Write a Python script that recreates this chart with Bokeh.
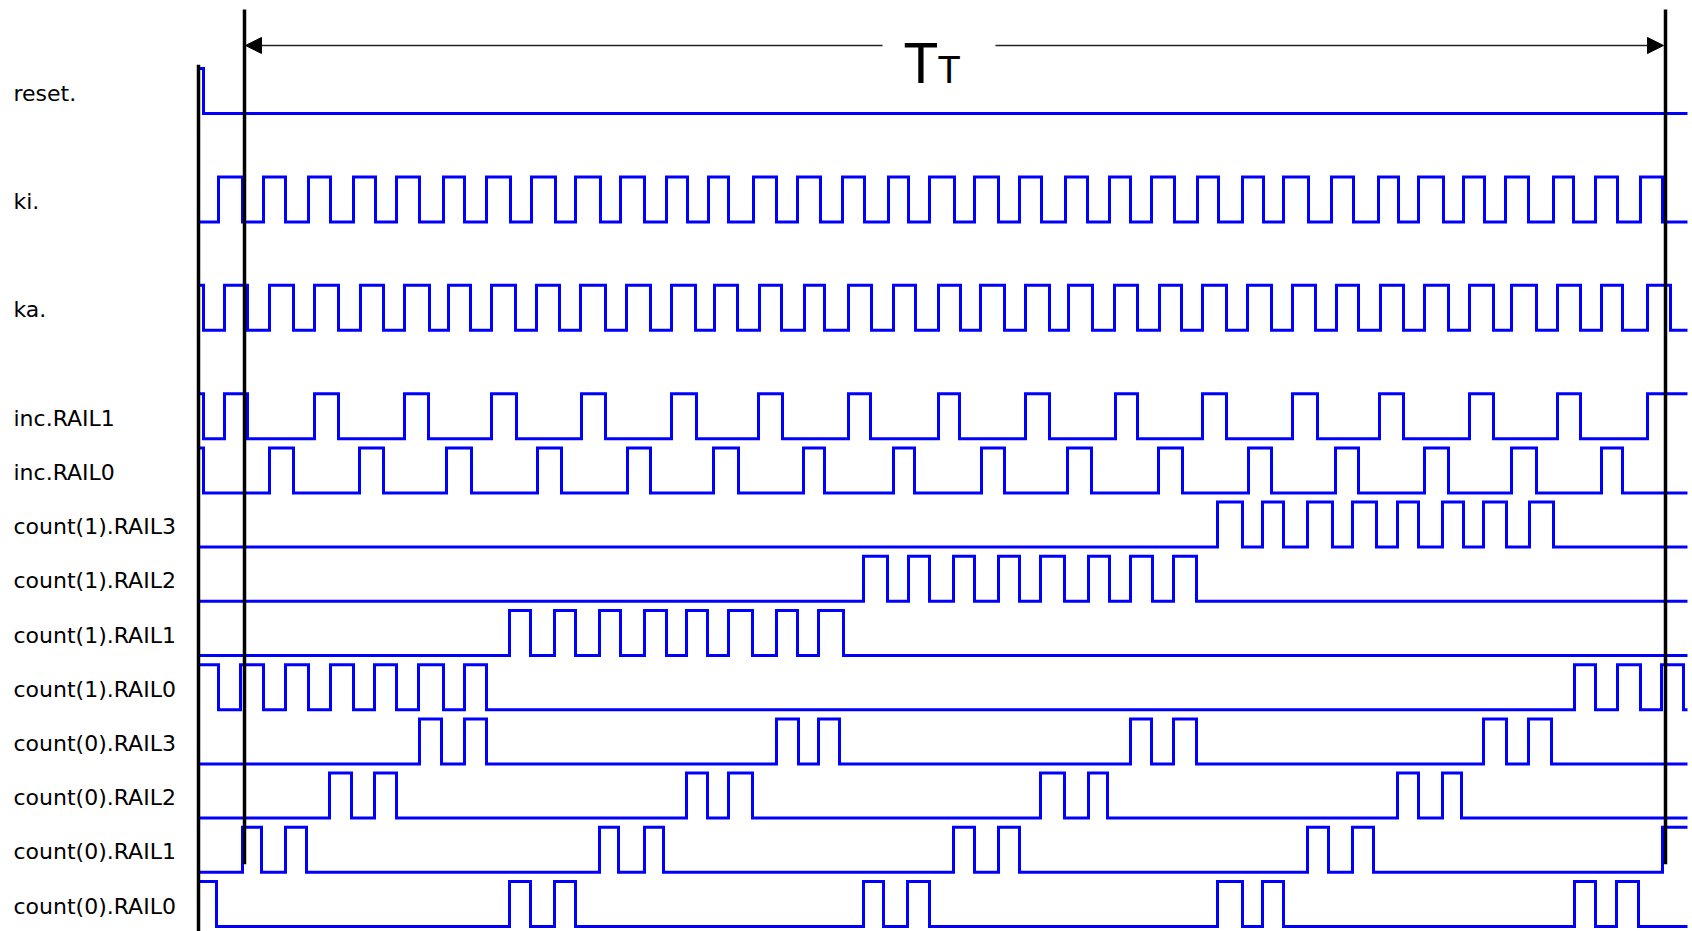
from bokeh.plotting import figure
from bokeh.models import Range1d, Arrow, NormalHead, ColumnDataSource
from bokeh.core.properties import value
from bokeh.embed import file_html
from bokeh.resources import INLINE

# ---------------- data (time units) ----------------
T_END = 1489

signal_names = ["reset.", "ki.", "ka.", "inc.RAIL1", "inc.RAIL0",
                "count(1).RAIL3", "count(1).RAIL2", "count(1).RAIL1", "count(1).RAIL0",
                "count(0).RAIL3", "count(0).RAIL2", "count(0).RAIL1", "count(0).RAIL0"]
signal_rows = [0, 2, 4, 6, 7, 8, 9, 10, 11, 12, 13, 14, 15]
initial_levels = [1, 0, 1, 1, 1, 0, 0, 0, 1, 0, 0, 0, 1]

reset_edges = [5]
ki_edges = [20, 44, 65, 87, 110, 132, 155, 177, 198, 221, 245, 266, 288, 312, 333, 357,
            377, 402, 422, 446, 468, 489, 510, 530, 555, 578, 599, 622, 644, 666, 690, 710,
            731, 756, 776, 800, 821, 843, 867, 889, 911, 932, 953, 976, 999, 1020, 1044, 1065,
            1085, 1110, 1133, 1155, 1180, 1200, 1220, 1245, 1265, 1286, 1307, 1330, 1355, 1375,
            1397, 1419, 1442, 1464]
ka_edges = [5, 26, 49, 71, 95, 116, 140, 162, 185, 206, 231, 250, 272, 293, 317, 338, 361,
            382, 407, 428, 452, 473, 497, 516, 539, 561, 583, 606, 626, 650, 673, 695, 717,
            740, 762, 782, 806, 827, 851, 870, 894, 916, 939, 961, 983, 1004, 1028, 1049, 1073,
            1094, 1117, 1138, 1160, 1182, 1205, 1226, 1250, 1271, 1295, 1313, 1338, 1359, 1382,
            1403, 1424, 1449, 1472]
inc_rail1_edges = [5, 26, 49, 116, 140, 206, 230, 293, 318, 383, 407, 473, 498, 560, 584, 650,
                   672, 740, 761, 827, 851, 917, 939, 1004, 1028, 1094, 1119, 1181, 1205, 1271,
                   1295, 1359, 1382, 1449]
inc_rail0_edges = [5, 71, 95, 161, 185, 248, 273, 339, 363, 429, 452, 515, 540, 605, 626, 695,
                   716, 783, 806, 869, 893, 960, 984, 1050, 1073, 1137, 1160, 1226, 1250, 1313,
                   1338, 1403, 1424]
c1_rail3_edges = [1019, 1044, 1064, 1085, 1109, 1134, 1154, 1178, 1199, 1220, 1244, 1265, 1285,
                  1308, 1331, 1355]
c1_rail2_edges = [665, 689, 710, 731, 755, 776, 800, 821, 842, 866, 890, 911, 932, 954, 975, 998]
c1_rail1_edges = [311, 332, 356, 377, 401, 422, 446, 468, 488, 509, 530, 554, 578, 599, 620, 645]
c1_rail0_edges = [20, 42, 65, 87, 110, 132, 155, 176, 198, 220, 245, 266, 288,
                  1376, 1397, 1419, 1442, 1463, 1485]
c0_rail3_edges = [221, 243, 266, 288, 578, 600, 620, 641, 932, 953, 975, 998, 1285, 1308, 1330, 1353]
c0_rail2_edges = [131, 153, 176, 198, 488, 509, 530, 554, 842, 866, 890, 909, 1199, 1220, 1244, 1263]
c0_rail1_edges = [44, 63, 87, 108, 401, 420, 446, 465, 755, 776, 800, 821, 1109, 1130, 1154, 1175, 1464]
c0_rail0_edges = [18, 311, 332, 356, 377, 665, 685, 709, 731, 1019, 1044, 1064, 1085, 1376, 1397,
                  1418, 1440]

all_edges = [reset_edges, ki_edges, ka_edges, inc_rail1_edges, inc_rail0_edges,
             c1_rail3_edges, c1_rail2_edges, c1_rail1_edges, c1_rail0_edges,
             c0_rail3_edges, c0_rail2_edges, c0_rail1_edges, c0_rail0_edges]

# marker times
t_origin = 0
t_TT_start = 46
t_TT_end = 1467
TT_label = ("T", "T")

# ---------------- figure ----------------
AMP = 0.83
ROW_PX = 54.2
p = figure(width=1692, height=931,
           x_range=Range1d(-198, 1494),
           y_range=Range1d((931 - 113) / ROW_PX, -113 / ROW_PX),
           output_backend="svg", toolbar_location=None, x_axis_type=None, y_axis_type=None,
           min_border=0)
p.grid.visible = False
p.outline_line_color = None
p.background_fill_color = "white"
p.border_fill_color = "white"


def step(init, toggles, t_end):
    xs, ys = [0], [init]
    lvl = init
    for t in toggles:
        xs += [t, t]
        ys += [lvl, 1 - lvl]
        lvl = 1 - lvl
    xs.append(t_end)
    ys.append(lvl)
    return xs, ys


for row, init, edges in zip(signal_rows, initial_levels, all_edges):
    xs, ys = step(init, edges, T_END)
    p.line(xs, [row - AMP * v for v in ys], line_color="#0000FF", line_width=3,
           line_join="miter")

# labels
lab = ColumnDataSource(dict(x=[-185] * len(signal_names),
                            y=[r - AMP / 2 + 0.04 for r in signal_rows],
                            text=signal_names))
p.text(x="x", y="y", text="text", source=lab, text_font=value("DejaVu Sans"),
       text_font_size="22px", text_baseline="middle", text_align="left", text_color="black")

# vertical markers
p.segment(x0=[t_origin, t_TT_start, t_TT_end], y0=[-0.9, -1.92, -1.92],
          x1=[t_origin, t_TT_start, t_TT_end], y1=[15.5, 13.85, 13.85],
          line_color="black", line_width=3.5)

# T_T dimension arrow
y_arrow = -1.255
gap_l, gap_r = 684, 797
for xs_, xe_ in [(gap_l, t_TT_start + 1), (gap_r, t_TT_end - 2)]:
    p.add_layout(Arrow(end=NormalHead(size=16, fill_color="black", line_color="black"),
                       x_start=xs_, y_start=y_arrow, x_end=xe_, y_end=y_arrow,
                       line_color="#222222", line_width=1.5))

p.text(x=[705], y=[-0.94], text=[TT_label[0]], text_font=value("Liberation Sans"),
       text_font_size="57px", text_baseline="alphabetic", text_align="left", text_color="black")
p.text(x=[739], y=[-0.81], text=[TT_label[1]], text_font=value("Liberation Sans"),
       text_font_size="38px", text_baseline="alphabetic", text_align="left", text_color="black")

open("out.html", "w").write(file_html(p, INLINE))
